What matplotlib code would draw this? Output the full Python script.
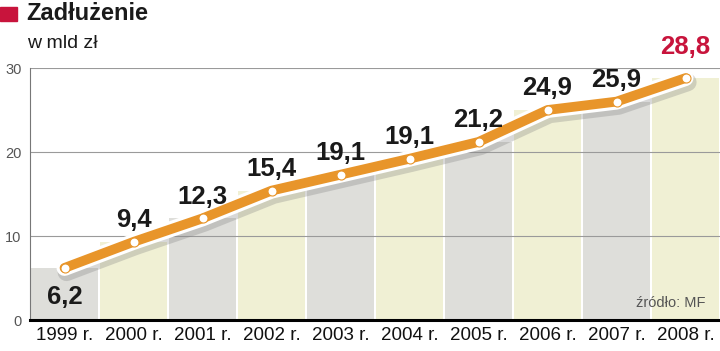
import matplotlib
matplotlib.use("Agg")
import matplotlib.pyplot as plt
import matplotlib.patheffects as pe
from matplotlib.patches import Rectangle

years = ["1999 r.", "2000 r.", "2001 r.", "2002 r.", "2003 r.", "2004 r.",
         "2005 r.", "2006 r.", "2007 r.", "2008 r."]
values = [6.2, 9.3, 12.1, 15.4, 17.3, 19.2, 21.2, 25.0, 26.0, 28.8]
labels = ["6,2", "9,4", "12,3", "15,4", "19,1", "19,1", "21,2", "24,9", "25,9", "28,8"]
yticks = [0, 10, 20, 30]

F = "Liberation Sans"
RED = "#c8143c"
ORANGE = "#e8952a"

fig = plt.figure(figsize=(7.2, 3.51), dpi=100)
ax = fig.add_axes([30/720, 1-320/351, 690/720, (320-68)/351])

x = list(range(len(values)))
cols = ["#dededa" if i % 2 == 0 else "#f0f0d4" for i in x]
ax.bar(x, values, width=0.97, color=cols, zorder=1)

for t in yticks[1:]:
    ax.axhline(t, color="#9a9a9a", lw=0.8, zorder=2)

ax.plot(x, values, color=ORANGE, lw=7, solid_capstyle="round",
        solid_joinstyle="round", zorder=4, clip_on=False,
        path_effects=[pe.SimpleLineShadow(offset=(1.5, -3), shadow_color="#808080", alpha=0.3, linewidth=13),
                      pe.Stroke(linewidth=11.5, foreground="white"), pe.Normal()])
ax.plot(x, values, "o", ms=6.5, mfc="white", mec=ORANGE, mew=0.8, zorder=5, clip_on=False)

for i, (v, lab) in enumerate(zip(values, labels)):
    if i == 0:
        ax.annotate(lab, (i, v), xytext=(0, -12), textcoords="offset points", ha="center", va="top",
                    fontsize=18.5, fontweight="bold", family=F, color="#1a1a1a", zorder=6)
    elif i == len(values) - 1:
        ax.annotate(lab, (i, v), xytext=(0, 14), textcoords="offset points", ha="center", va="bottom",
                    fontsize=18.5, fontweight="bold", family=F, color=RED, zorder=6)
    else:
        ax.annotate(lab, (i, v), xytext=(0, 7), textcoords="offset points", ha="center", va="bottom",
                    fontsize=18.5, fontweight="bold", family=F, color="#1a1a1a", zorder=6)

ax.set_xlim(-0.5, 9.5)
ax.set_ylim(0, 30)
ax.set_xticks(x)
ax.set_xticklabels(years, family=F, fontsize=13.5, color="#111111")
ax.set_yticks(yticks)
ax.set_yticklabels([str(t) for t in yticks], family=F, fontsize=10.5, color="#555555")
ax.tick_params(axis="both", length=0)
ax.tick_params(axis="x", pad=5)
ax.tick_params(axis="y", pad=6)
for s in ["top", "right"]:
    ax.spines[s].set_visible(False)
ax.spines["left"].set_color("#777777")
ax.spines["left"].set_linewidth(0.8)
ax.spines["bottom"].set_color("black")
ax.spines["bottom"].set_linewidth(2.2)
ax.spines["bottom"].set_zorder(7)

fig.patches.append(Rectangle((0, 1-21/351), 17/720, 14/351, transform=fig.transFigure,
                             color=RED, figure=fig))
fig.text(26/720, 1-14/351, "Zadłużenie", fontsize=17, fontweight="bold",
         family=F, va="center", ha="left", color="#1a1a1a")
fig.text(27/720, 1-43/351, "w mld zł", fontsize=14, family=F,
         va="center", ha="left", color="#1a1a1a")
fig.text(705/720, 1-303/351, "źródło: MF", fontsize=10.5, family=F,
         va="center", ha="right", color="#555555")

fig.savefig("out.png", dpi=100)
